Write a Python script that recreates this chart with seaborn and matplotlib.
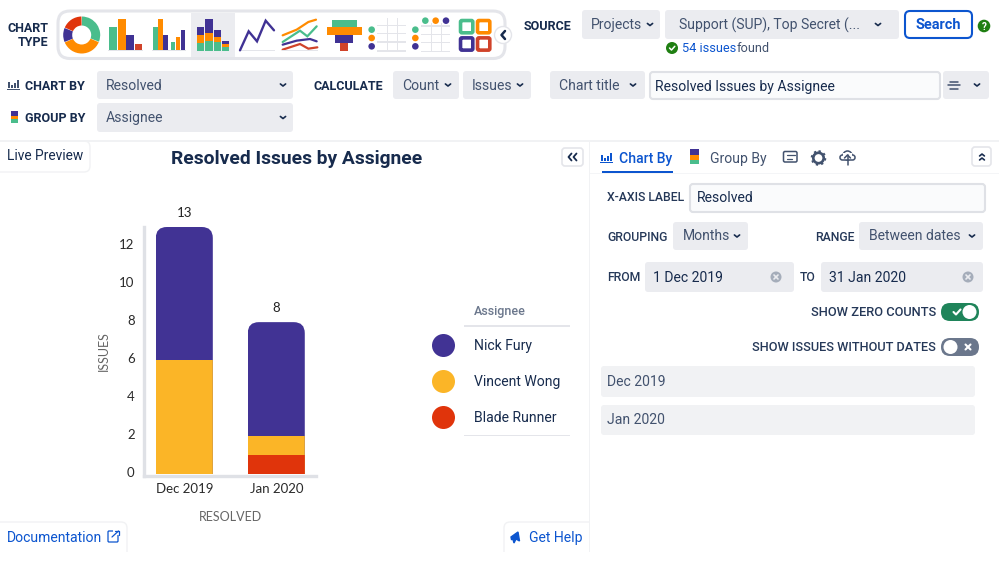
import matplotlib
matplotlib.use('Agg')
import matplotlib.pyplot as plt
import numpy as np
import seaborn as sns
from matplotlib.patches import Circle, FancyBboxPatch, Rectangle, Wedge
from matplotlib.transforms import IdentityTransform, ScaledTranslation

months = ['Dec 2019', 'Jan 2020']
assignees = ['Nick Fury', 'Vincent Wong', 'Blade Runner']
fury = [7, 6]
wong = [6, 1]
blade = [0, 1]
y_ticks = [0, 2, 4, 6, 8, 10, 12]
colors = ['#413394', '#FBB527', '#E0340B']

GREEN = '#4ABD8C'
ORANGE = '#FF8B00'
PURPLE = '#403294'
RED = '#D0432A'
LINE = '#E4E5EA'
FIELD = '#EBECF0'
NAVY = '#172B4D'
SLATE = '#42526E'
BLUE = '#0C55CF'
FORM = '#253858'
CHART_FONT = ['Lato', 'DejaVu Sans']

sns.set_style('white')
plt.rcParams['font.family'] = ['Roboto', 'DejaVu Sans']

fig = plt.figure(figsize=(9.99, 5.62), dpi=100)
ui = fig.add_axes([0, 0, 1, 1])
ui.set_xlim(0, 999)
ui.set_ylim(562, 0)
ui.axis('off')


def px(size):
    # css pixels to points
    return size * 0.72


def box(x0, y0, x1, y1, fc=FIELD, ec='none', lw=0, r=3, z=1):
    p = FancyBboxPatch((x0, y0), x1 - x0, y1 - y0, boxstyle=f'round,pad=0,rounding_size={r}',
                       fc=fc, ec=ec, lw=lw, zorder=z)
    ui.add_patch(p)


def label(x, y, s, size=14, color=SLATE, weight='normal', ha='left', **kw):
    ui.text(x, y + 1, s, fontsize=px(size), color=color, weight=weight, ha=ha, va='center', zorder=5, **kw)


def chevron(x, y, size=2.6, color=SLATE, lw=1.2, up=False):
    d = -size * 0.8 if up else size * 0.8
    ui.plot([x - size, x, x + size], [y - d / 2, y + d / 2, y - d / 2], color=color, lw=lw, zorder=6,
            solid_capstyle='round', solid_joinstyle='round')


def select(x0, y0, x1, y1, s, chev, tx):
    box(x0, y0, x1, y1)
    label(tx, (y0 + y1) / 2 - 0.5, s)
    chevron(chev, (y0 + y1) / 2, color=NAVY)


def rects(items):
    for x0, y0, x1, y1, c in items:
        ui.add_patch(Rectangle((x0, y0), x1 - x0, y1 - y0, fc=c, ec='none', zorder=3))


def poly(points, color, lw=2.0, ox=55, oy=8):
    xs = [ox + p[0] / 3 for p in points]
    ys = [oy + p[1] / 3 for p in points]
    ui.plot(xs, ys, color=color, lw=lw, zorder=3, solid_joinstyle='miter')


def zoomed(items, ox, oy):
    rects([(ox + a / 3, oy + b / 3, ox + c / 3, oy + d / 3, col) for a, b, c, d, col in items])


def clear_icon(x, y):
    ui.add_patch(Circle((x, y), 5.5, fc='#A5ADBA', ec='none', zorder=5))
    ui.plot([x - 2, x + 2], [y - 2, y + 2], color=FIELD, lw=1.2, zorder=6)
    ui.plot([x - 2, x + 2], [y + 2, y - 2], color=FIELD, lw=1.2, zorder=6)


def chart_icon(x, y, color):
    # little bar chart glyph next to CHART BY
    rects([(x, y - 3, x + 2, y + 3, color), (x + 3, y, x + 5, y + 3, color),
           (x + 6, y - 2, x + 8, y + 3, color), (x + 9, y - 5, x + 11, y + 3, color)])
    rects([(x - 1, y + 3.5, x + 12, y + 4.5, color)])


def stack_icon(x, y, w=8, h=15):
    rects([(x, y, x + w, y + h * 0.4, PURPLE), (x, y + h * 0.4, x + w, y + h * 0.7, ORANGE),
           (x, y + h * 0.7, x + w, y + h, GREEN)])


# chart type strip
box(58, 11, 505, 58.5, fc='white', ec=LINE, lw=2.2, r=12)
ui.add_patch(Rectangle((191, 13), 43.5, 44, fc=FIELD, ec='none', zorder=2))
for a, b, c in [(-22, 90, GREEN), (-157, -22, ORANGE), (157, 203, PURPLE), (90, 157, '#E0340B')]:
    # y axis is flipped, so angles are mirrored
    ui.add_patch(Wedge((81.7, 35), 18.5, -b + 0.8, -a - 0.8, width=9, fc=c, ec='none', zorder=3))
zoomed([(163, 57, 186, 128, GREEN), (189, 33, 212, 128, ORANGE), (214, 82, 236, 128, PURPLE),
        (239, 107, 260, 128, RED), (160, 127, 263, 130, LINE),
        (294, 57, 308, 128, GREEN), (310, 33, 325, 128, ORANGE), (325, 82, 340, 128, PURPLE),
        (347, 102, 361, 128, GREEN), (362, 87, 376, 128, ORANGE), (377, 67, 391, 128, PURPLE),
        (291, 127, 394, 130, LINE),
        (426, 58, 447, 82, PURPLE), (426, 82, 447, 106, ORANGE), (426, 106, 447, 128, GREEN),
        (450, 33, 473, 75, PURPLE), (450, 75, 473, 99, ORANGE), (450, 99, 473, 128, GREEN),
        (476, 65, 499, 88, PURPLE), (476, 88, 499, 102, ORANGE), (476, 102, 499, 128, GREEN),
        (500, 100, 523, 109, PURPLE), (500, 109, 523, 118, ORANGE), (500, 118, 523, 128, GREEN),
        (553, 127, 660, 130, LINE)], 55, 8)
poly([(555, 127), (581, 70), (606, 100), (632, 38), (657, 67)], PURPLE, lw=1.7)
poly([(8, 82), (50, 65), (85, 42), (108, 35)], ORANGE, lw=1.6, ox=280)
poly([(8, 102), (60, 68), (82, 85), (110, 55)], GREEN, lw=1.6, ox=280)
poly([(8, 110), (50, 98), (90, 93), (110, 100)], PURPLE, lw=1.6, ox=280)
poly([(8, 125), (60, 108), (85, 122), (112, 118)], RED, lw=1.6, ox=280)
zoomed([(5, 127, 115, 130, LINE),
        (155, 35, 232, 58, GREEN), (140, 58, 245, 80, ORANGE), (165, 80, 218, 104, PURPLE),
        (180, 104, 205, 128, RED)], 280, 8)
for h in [50, 75, 100, 127]:
    zoomed([(292, h, 378, h + 4, LINE)], 280, 8)
    zoomed([(422, h + 2, 510, h + 6, LINE)], 280, 8)
for v in [320, 350]:
    zoomed([(v, 30, v + 4, 130, LINE)], 280, 8)
for v in [452, 482]:
    zoomed([(v, 45, v + 4, 130, LINE)], 280, 8)
for cx, cy, c in [(275, 65, GREEN), (275, 90, ORANGE), (275, 115, PURPLE), (406, 65, GREEN), (406, 90, ORANGE),
                  (406, 115, PURPLE), (436, 38, GREEN), (467, 38, ORANGE), (498, 38, PURPLE)]:
    ui.add_patch(Circle((280 + cx / 3, 8 + cy / 3), 3.3, fc=c, ec='none', zorder=3))
for a, b, c in [(538, 34, GREEN), (589, 34, ORANGE), (538, 86, PURPLE), (589, 86, RED)]:
    box(280 + a / 3 + 1.2, 8 + b / 3 + 1.2, 280 + (a + 44) / 3 - 1.2, 8 + (b + 44) / 3 - 1.2, fc='white', ec=c, lw=2.6, r=1.5, z=3)
ui.add_patch(Circle((503, 35), 8.5, fc='white', ec=LINE, lw=1, zorder=4))
ui.plot([505, 501.5, 505], [31, 35, 39], color=NAVY, lw=1.8, zorder=5)

# top controls
label(48, 28, 'CHART', size=12.5, color=NAVY, weight='bold', ha='right')
label(48, 41, 'TYPE', size=12.5, color=NAVY, weight='bold', ha='right')
chart_icon(8, 85, SLATE)
label(25, 85, 'CHART BY', size=12.5, color=NAVY, weight='bold')
stack_icon(10.5, 111, w=7, h=12)
label(25, 117, 'GROUP BY', size=12.5, color=NAVY, weight='bold')
select(97, 71, 293, 99, 'Resolved', 283, 106)
select(97, 103, 293, 132, 'Assignee', 283, 106)
label(314, 86, 'CALCULATE', size=12.5, color=NAVY, weight='bold')
select(393, 71, 459, 99, 'Count', 448, 402)
select(463, 71, 531, 99, 'Issues', 520, 472)
label(524, 25, 'SOURCE', size=12.5, color=NAVY, weight='bold')
select(582, 10, 660, 39, 'Projects', 650, 591)
select(665, 10, 899, 39, 'Support (SUP), Top Secret (...', 878, 679)
box(905, 11, 972, 38, fc='white', ec=BLUE, lw=1.5, r=5)
label(938.5, 24, 'Search', size=14.5, color=BLUE, weight='bold', ha='center')
ui.add_patch(Circle((984, 26), 6.3, fc='#1F7F12', ec='none', zorder=4))
label(984, 25.5, '?', size=10, color='white', weight='bold', ha='center')
ui.add_patch(Circle((672, 48), 6, fc='#1F7F12', ec='none', zorder=4))
ui.plot([669.5, 671.5, 674.8], [48, 50, 46.3], color='white', lw=1.1, zorder=5)
label(682, 47.5, '54 issues', size=12.8, color=BLUE)
label(737, 47.5, 'found', size=12.8, color=SLATE)
select(550, 71, 645, 99, 'Chart title', 633, 559)
box(650, 72, 940, 99, fc='#FAFBFC', ec='#DFE1E6', lw=1.5)
label(655, 85.5, 'Resolved Issues by Assignee', color=NAVY)
box(943, 71, 989, 99)
for w, yy in [(4, 81.5), (6, 85), (4, 88.5)]:
    ui.plot([954 - w, 954 + w], [yy, yy], color=SLATE, lw=1.1, zorder=5)
chevron(977, 85, color=NAVY)

# panel frame
rects([(0, 140, 999, 141.5, '#F1F2F4'), (588.5, 141, 590, 552, '#F1F2F4')])
box(-6, 141, 90, 172, fc='white', ec='#F1F2F4', lw=1, r=6)
label(7, 155.5, 'Live Preview', size=13.7, color=NAVY)
label(297, 158, 'Resolved Issues by Assignee', size=19.3, color=NAVY, weight='bold', ha='center')
box(562, 148, 583, 166, fc='white', ec=LINE, lw=1.2, r=3)
for dx in [-2.5, 2.5]:
    ui.plot([574 + dx, 571 + dx, 574 + dx], [153.5, 157, 160.5], color=NAVY, lw=1.3, zorder=5)

# the chart
chart = fig.add_axes([144.3 / 999, 1 - 475.7 / 562, 171.7 / 999, 248.7 / 562], zorder=3)
chart.patch.set_alpha(0)
totals = np.array(fury) + np.array(wong) + np.array(blade)
layers = [totals, np.array(wong) + np.array(blade), np.array(blade)]
for values, c in zip(layers, colors):
    sns.barplot(x=months, y=values, color=c, saturation=1, width=0.62, linewidth=0, ax=chart)
chart.set_xlim(-0.435, 1.432)
chart.set_ylim(-0.07, 13)
chart.set_yticks(y_ticks)
chart.tick_params(axis='both', length=0, labelsize=px(13.2), labelcolor='#2A2A2A', labelfontfamily='Lato')
chart.tick_params(axis='y', pad=7)
chart.tick_params(axis='x', pad=5)
# the tick numbers sit a little above their gridline positions in the reference
nudge = ScaledTranslation(0, 2.5 / 100, fig.dpi_scale_trans)
for t in chart.get_yticklabels():
    t.set_transform(t.get_transform() + nudge)
chart.set_xlabel('RESOLVED', fontsize=px(12.5), color='#666666', family=CHART_FONT, labelpad=12)
chart.set_ylabel('ISSUES', fontsize=px(12.5), color='#666666', family=CHART_FONT, labelpad=7)
sns.despine(ax=chart)
for side in ['left', 'bottom']:
    chart.spines[side].set_color('#DFE1E6')
    chart.spines[side].set_linewidth(2.4)
    chart.spines[side].set_zorder(1)

# round the top corners of each stacked column
fig.canvas.draw()
for bar in chart.patches:
    (x0, y0), (x1, y1) = chart.transData.transform([(bar.get_x(), 0), (bar.get_x() + bar.get_width(), 0)])
    pos = bar.get_x() + bar.get_width() / 2
    top = totals[int(round(pos))]
    _, ytop = chart.transData.transform((pos, top))
    clip = FancyBboxPatch((x0, y0 - 20), x1 - x0, ytop - y0 + 20, boxstyle='round,pad=0,rounding_size=11',
                          transform=IdentityTransform())
    bar.set_clip_path(clip)
for i, total in enumerate(totals):
    chart.annotate(str(total), (i, total), xytext=(0, 10), textcoords='offset points', ha='center', va='center',
                   fontsize=px(13.2), color='#222222', family=CHART_FONT, annotation_clip=False)

# legend
label(474, 310.5, 'Assignee', size=12.5, color='#6B778C', weight='medium')
rects([(464, 325.3, 570, 326.8, LINE), (464, 434.5, 570, 436, LINE)])
for name, c, yy in zip(assignees, colors, [345.5, 381.5, 417.5]):
    ui.add_patch(Circle((443.5, yy), 11.5, fc=c, ec='none', zorder=4))
    label(474, yy - 0.5, name, color=NAVY)

# right panel
chart_icon(601, 158, BLUE)
label(619, 157.5, 'Chart By', color=BLUE, weight='medium')
rects([(602, 171, 673, 172.5, BLUE), (590, 172.5, 999, 174, '#F4F5F7')])
stack_icon(690, 149, w=9, h=15)
label(710, 157.5, 'Group By', color=SLATE)
box(783.5, 151.5, 797, 162, fc='white', ec=SLATE, lw=1.1, r=1.5)
for yy, w in [(155, 8), (158.5, 5)]:
    ui.plot([786.5, 786.5 + w], [yy, yy], color=SLATE, lw=0.9, zorder=5)
ui.add_patch(Circle((818.5, 158), 5.2, fc='white', ec=SLATE, lw=1.9, zorder=4))
ui.add_patch(Circle((818.5, 158), 6.8, fc='none', ec=SLATE, lw=1.4, ls=(0, (1.2, 1.6)), zorder=4))
ui.add_patch(Circle((847.5, 155.5), 4.5, fc='white', ec=SLATE, lw=1.1, zorder=4))
ui.add_patch(FancyBboxPatch((840, 155), 15, 5, boxstyle='round,pad=0,rounding_size=2.4', fc='white', ec=SLATE, lw=1.1, zorder=4))
ui.add_patch(Rectangle((843, 153), 9, 5, fc='white', ec='none', zorder=5))
ui.plot([847.5, 847.5], [155, 165], color=SLATE, lw=1.1, zorder=6)
ui.plot([844.5, 847.5, 850.5], [158, 155, 158], color=SLATE, lw=1.1, zorder=6)
box(972, 147, 991, 166, fc='white', ec=LINE, lw=1.2, r=3)
chevron(982, 155, size=2.4, color=NAVY, up=True)
chevron(982, 159, size=2.4, color=NAVY, up=True)

label(607, 196.5, 'X-AXIS LABEL', size=12.3, color=FORM, weight='medium')
box(690, 184, 985, 212, fc='#FAFBFC', ec='#DFE1E6', lw=1.5)
label(697, 197.5, 'Resolved', color=NAVY)
label(607, 236.5, 'GROUPING', size=12.3, color=FORM, weight='medium')
select(673, 222, 748, 250, 'Months', 737, 683)
label(815, 236.5, 'RANGE', size=12.3, color=FORM, weight='medium')
select(859, 222, 983, 250, 'Between dates', 972, 869)
label(607, 276.5, 'FROM', size=12.3, color=FORM, weight='medium')
box(645, 262, 794, 292)
label(653, 276.5, '1 Dec 2019', color=NAVY)
clear_icon(776, 277)
label(800, 276.5, 'TO', size=12.3, color=FORM, weight='medium')
box(821, 262, 983, 292)
label(829, 276.5, '31 Jan 2020', color=NAVY)
clear_icon(968, 277)
label(936, 311.5, 'SHOW ZERO COUNTS', size=12.9, color=FORM, ha='right', weight='medium')
box(941, 303, 979, 321, fc='#1F845A', r=9)
ui.add_patch(Circle((969.5, 312), 7, fc='white', ec='none', zorder=4))
ui.plot([953.5, 956, 960.5], [312, 314.5, 309.5], color='white', lw=1.5, zorder=4)
label(936, 346.5, 'SHOW ISSUES WITHOUT DATES', size=12.8, color=FORM, ha='right', weight='medium')
box(941, 338, 979, 356, fc='#6B778C', r=9)
ui.add_patch(Circle((950.5, 347), 7, fc='white', ec='none', zorder=4))
ui.plot([965.5, 970.5], [344.5, 349.5], color='white', lw=1.5, zorder=4)
ui.plot([965.5, 970.5], [349.5, 344.5], color='white', lw=1.5, zorder=4)
box(601, 366, 975, 397, fc='#F1F2F4')
label(607, 381.5, months[0])
box(601, 405, 975, 435, fc='#F1F2F4')
label(607, 419.5, months[1])

# footer tabs
box(-6, 522, 127, 575, fc='white', ec='#F1F2F4', lw=1, r=6)
label(7, 536.5, 'Documentation', color=BLUE)
box(108, 531, 118, 542, fc='white', ec=BLUE, lw=0.9, r=1)
ui.add_patch(Rectangle((113, 529), 7, 6, fc='white', ec='none', zorder=3))
ui.plot([112, 118.5], [537, 531], color=BLUE, lw=0.9, zorder=4)
ui.plot([115, 118.5, 118.5], [531, 531, 534.5], color=BLUE, lw=0.9, zorder=4)
box(504, 522, 640, 575, fc='white', ec='#F1F2F4', lw=1, r=6)
rects([(590, 515, 645, 562, 'white'), (588.5, 515, 590, 552, '#F1F2F4'), (0, 552, 999, 562, 'white')])
ui.fill([511, 518, 519.5, 516, 514, 513, 511.5], [537, 532, 541, 539, 543, 539.5, 539.5], color=BLUE, zorder=4)
label(529, 537, 'Get Help', color=BLUE)

fig.savefig('out.png', dpi=100)
